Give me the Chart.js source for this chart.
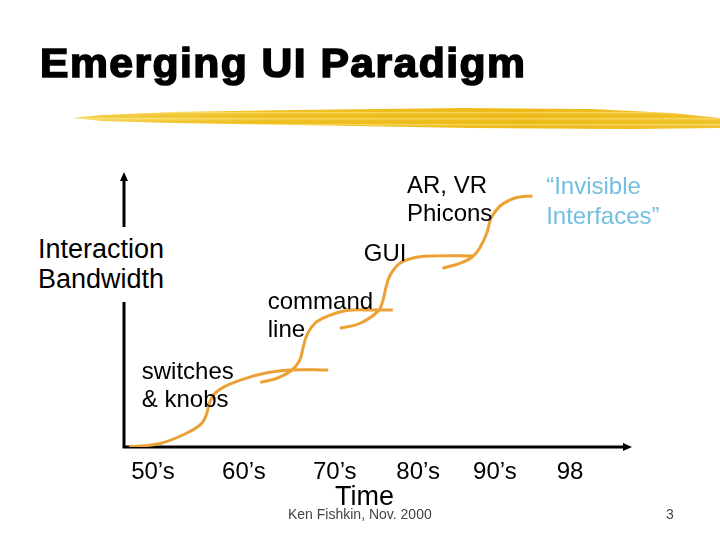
<!DOCTYPE html>
<html>
<head>
<meta charset="utf-8">
<script src="https://cdn.jsdelivr.net/npm/chart.js@4.4.1/dist/chart.umd.min.js"></script>
<style>
    html, body { margin: 0; padding: 0; background: #fff; }
    #slide { position: relative; width: 720px; height: 540px; overflow: hidden; font-family: 'Liberation Sans', Arial, sans-serif; }
    #chart { position: absolute; left: 0; top: 0; }
    .txt { position: absolute; white-space: pre; color: #000; font-size: 24px; line-height: 28px; }
    #title { left: 40px; top: 38px; font-size: 41px; line-height: 50px; font-weight: bold; letter-spacing: 1.4px;
        -webkit-text-stroke: 1.6px #000; transform: scaleX(1.04); transform-origin: left top; }
    #brush { position: absolute; left: 72px; top: 106px; width: 648px; height: 25px;
        background:
            repeating-linear-gradient(to bottom, rgba(255,240,170,0.55) 0px, rgba(255,240,170,0) 2px, rgba(230,170,0,0.25) 4px, rgba(255,240,170,0) 6px),
            linear-gradient(to right, #f6d65a 0%, #f0c42a 30%, #eebd1c 70%, #f2c634 100%);
        clip-path: polygon(0px 12px, 30px 9px, 100px 6px, 220px 4px, 390px 2px, 520px 3px, 600px 7px, 648px 12px, 648px 22px, 560px 23px, 400px 22px, 220px 19px, 100px 17px, 30px 15px); }
    #ylabel { left: 36px; top: 227px; font-size: 27px; line-height: 30px; padding: 7px 2px 8px 2px; background: #fff; }
    #xlabel { left: 335px; top: 481px; font-size: 27px; line-height: 30px; }
    #footer { left: 288px; top: 506px; font-size: 14px; line-height: 17px; color: #444; }
    #pageno { left: 666px; top: 506px; font-size: 14px; line-height: 17px; color: #444; }
    #invisible { color: #74bee0; line-height: 30px; }
</style>
</head>
<body>
<div id="slide">
    <canvas id="chart" width="720" height="540"></canvas>
    <div class="txt" id="title">Emerging UI Paradigm</div>
    <div id="brush"></div>
    <div class="txt" id="ylabel">Interaction
Bandwidth</div>
    <div class="txt" id="xlabel">Time</div>
    <div class="txt" id="footer">Ken Fishkin, Nov. 2000</div>
    <div class="txt" id="pageno">3</div>
</div>
<script>
// Time axis: tick positions (0..100 along the arrow) and their labels
const tickPositions = [5.7, 23.6, 41.5, 57.9, 73.0, 87.8];
const tickLabels = ['50\u2019s', '60\u2019s', '70\u2019s', '80\u2019s', '90\u2019s', '98'];

// Stage curves, [time, bandwidth] on a 0..100 scale
const switchesKnobs = [[1, 0], [7.1, 1.3], [12.3, 5.0], [15.3, 8.6], [16.3, 12.3], [16.7, 15.3], [17.6, 18.9],
    [19.5, 21.7], [23.5, 24.7], [28.1, 27.0], [32.7, 28.0], [40.2, 28.0]];
const commandLine = [[26.8, 23.5], [30.1, 25.0], [33.0, 27.9], [34.6, 31.6], [35.3, 36.5], [36.0, 40.7],
    [37.6, 45.0], [39.9, 47.4], [43.8, 49.6], [49.7, 49.8], [52.9, 49.8]];
const gui = [[42.5, 43.2], [46.5, 45.0], [50.1, 49.6], [51.0, 53.5], [51.6, 58.3], [52.4, 62.5],
    [54.3, 66.8], [57.6, 69.0], [61.6, 69.5], [68.6, 69.5]];
const arVr = [[62.7, 65.0], [66.1, 66.8], [68.6, 69.2], [70.1, 72.6], [71.4, 77.7], [72.2, 83.0],
    [73.3, 86.2], [74.7, 88.6], [77.3, 90.7], [80.4, 91.3]];

// Stage labels: text and the [time, bandwidth] point of their top-left corner
const stageLabels = ['switches\n& knobs', 'command\nline', 'GUI', 'AR, VR\nPhicons', '\u201cInvisible\nInterfaces\u201d'];
const stageAnchors = [[3.5, 32.9], [28.3, 58.1], [47.2, 75.8], [55.7, 100.5], [83.1, 100.5]];

const ORANGE = '#eba135';

function curve(points) {
    return {
        data: points.map(p => ({ x: p[0], y: p[1] })),
        borderColor: ORANGE,
        borderWidth: 3,
        pointRadius: 0,
        fill: false,
        tension: 0.4,
        borderCapStyle: 'butt'
    };
}

// Axes with arrowheads, drawn through the scales
const arrowAxes = {
    id: 'arrowAxes',
    beforeDatasetsDraw(chart) {
        const { ctx, scales: { x, y } } = chart;
        const x0 = x.getPixelForValue(0);
        const x1 = x.getPixelForValue(100);
        const y0 = y.getPixelForValue(0);
        const y1 = y.getPixelForValue(100);
        ctx.save();
        ctx.strokeStyle = '#000';
        ctx.fillStyle = '#000';
        ctx.lineWidth = 3;
        ctx.beginPath();
        ctx.moveTo(x0, y0 + 1.5);
        ctx.lineTo(x0, y1 + 8);
        ctx.moveTo(x0 - 1.5, y0);
        ctx.lineTo(x1 - 8, y0);
        ctx.stroke();
        ctx.beginPath();
        ctx.moveTo(x0, y1);
        ctx.lineTo(x0 - 4, y1 + 9);
        ctx.lineTo(x0 + 4, y1 + 9);
        ctx.closePath();
        ctx.moveTo(x1, y0);
        ctx.lineTo(x1 - 9, y0 - 4);
        ctx.lineTo(x1 - 9, y0 + 4);
        ctx.closePath();
        ctx.fill();
        ctx.restore();
    }
};

const chart = new Chart(document.getElementById('chart'), {
    type: 'line',
    data: {
        datasets: [curve(switchesKnobs), curve(commandLine), curve(gui), curve(arVr)]
    },
    options: {
        responsive: false,
        animation: false,
        layout: { padding: { left: 124, right: 88, top: 172, bottom: 53 } },
        plugins: { legend: { display: false }, tooltip: { enabled: false } },
        scales: {
            x: {
                type: 'linear',
                min: 0,
                max: 100,
                grid: { display: false },
                border: { display: false },
                afterBuildTicks: (scale) => { scale.ticks = tickPositions.map(v => ({ value: v })); },
                afterFit: (scale) => { scale.height = 40; },
                ticks: {
                    autoSkip: false,
                    maxRotation: 0,
                    padding: 3,
                    color: '#000',
                    font: { family: "'Liberation Sans', Arial, sans-serif", size: 24 },
                    callback: (value) => tickLabels[tickPositions.indexOf(value)]
                }
            },
            y: { type: 'linear', min: 0, max: 100, display: false }
        }
    },
    plugins: [arrowAxes]
});

// Stage labels placed through the chart scales
const slide = document.getElementById('slide');
stageLabels.forEach((text, i) => {
    const div = document.createElement('div');
    div.className = 'txt';
    if (i === stageLabels.length - 1) div.id = 'invisible';
    div.textContent = text;
    div.style.left = chart.scales.x.getPixelForValue(stageAnchors[i][0]) + 'px';
    div.style.top = chart.scales.y.getPixelForValue(stageAnchors[i][1]) + 'px';
    slide.appendChild(div);
});
</script>
</body>
</html>
